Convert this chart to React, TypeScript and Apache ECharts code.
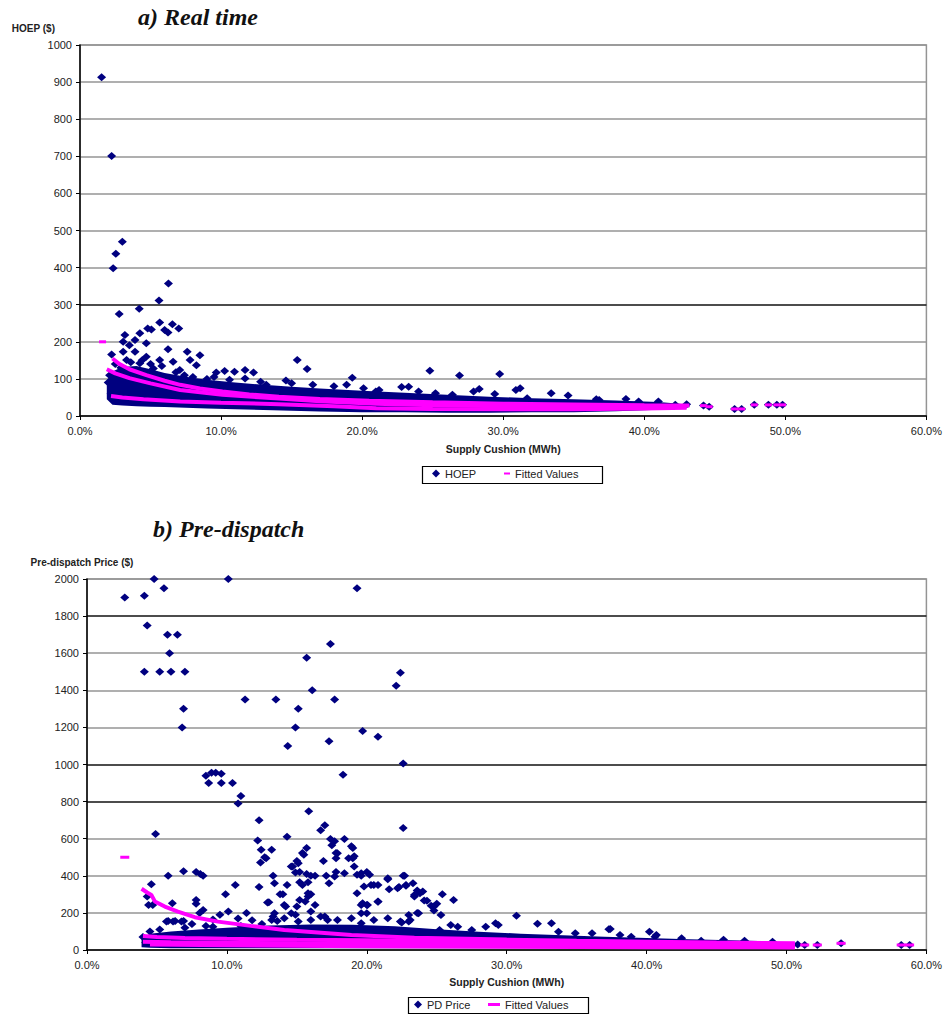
import React, { useEffect, useRef } from 'react';
import * as echarts from 'echarts';

const NAVY = '#000080';
const PINK = '#FF00FF';

// ---------- a) Real time ----------
// supply cushion (%) , HOEP ($)
const RT_POINTS: number[][] = [
  [1.53, 913], [2.24, 701], [3.0, 470], [2.54, 437], [2.35, 398], [6.27, 357], [5.6, 311], [4.2, 289], [2.78, 275],
  [2.24, 166], [3.18, 218], [3.06, 200], [4.24, 223], [4.8, 236], [5.06, 233], [5.65, 252], [6.0, 232], [6.24, 225], [6.55, 247], [7.0, 236],
  [3.9, 205], [4.7, 196], [3.5, 191], [3.06, 173], [3.9, 173], [6.24, 180], [7.6, 173], [8.5, 164],
  [3.3, 151], [4.7, 160], [4.24, 142], [5.65, 151], [6.6, 146], [7.8, 151],
  [5.2, 128], [7.07, 124], [8.25, 137], [9.66, 117], [10.25, 121], [10.95, 119], [11.7, 124], [12.3, 117],
  [15.4, 151], [16.1, 127], [19.3, 103],
  [24.8, 122], [26.9, 109], [29.75, 113], [30.9, 70], [31.2, 75], [33.4, 61], [34.6, 55], [27.9, 66], [28.3, 73],
  [22.8, 78], [23.3, 79], [20.97, 66], [36.6, 45], [38.7, 46],
  [11.7, 101], [13.2, 84], [14.6, 96], [16.5, 84], [18.0, 80], [18.9, 84], [20.1, 75], [21.2, 70], [24, 66], [25.2, 61],
  [26.4, 57], [29.4, 59], [31.7, 48], [36.8, 43], [39.6, 39], [41, 39],
  [2.5, 140], [2.9, 130], [3.6, 145], [4.4, 150], [5.0, 140], [5.8, 135], [6.8, 118], [7.4, 110], [8.0, 105], [9.0, 100],
  [2.1, 110], [2.0, 90], [2.2, 60], [2.6, 45], [9.5, 105], [10.6, 98], [12.8, 92], [15.0, 88],
  [42.2, 30], [43.0, 32], [44.2, 28], [44.6, 25], [46.4, 19], [46.9, 19], [47.8, 30], [48.8, 30], [49.4, 30], [49.8, 30],
];
// dense part of the cloud: supply cushion (%), lower edge, upper edge
const RT_CLOUD: number[][] = [
  [1.9, 45, 95], [2.3, 30, 120], [3, 28, 132], [4, 26, 135], [5, 25, 126], [6, 24, 116], [7.5, 22, 106], [9, 20, 98],
  [11, 18, 90], [13, 16, 84], [15, 14, 79], [17, 12, 74], [20, 10, 68], [23, 10, 63], [26, 9, 57], [29, 9, 52],
  [32, 10, 48], [35, 10, 45], [38, 13, 42], [41, 17, 38], [42.5, 20, 33], [43.2, 24, 28],
];
const RT_FIT_A: number[][] = [
  [2.3, 155], [2.8, 140], [3.5, 126], [4.7, 110], [6, 95], [7.1, 84], [8.5, 74], [10.1, 66], [12, 58], [14.1, 52],
  [17, 46], [20.5, 41], [25, 37], [30, 33], [35, 31], [40, 29], [43.2, 28],
];
const RT_FIT_B: number[][] = [
  [1.9, 126], [2.5, 115], [3.5, 102], [5, 88], [7.1, 70], [10.1, 57], [14.1, 47], [17, 40], [21, 33], [25, 29],
  [30, 26], [35, 25], [40, 24], [43, 25],
];
const RT_FIT_C: number[][] = [
  [2.2, 54], [3, 50], [4.5, 45], [7.1, 39], [10, 36], [14.1, 32], [18, 26], [21, 21], [25, 19], [30, 18],
  [35, 18], [40, 20], [43, 22],
];
const RT_FIT_DOTS: number[][] = [
  [1.6, 200], [44.2, 28], [44.6, 25], [46.4, 19], [46.9, 19], [47.8, 30], [48.8, 30], [49.4, 30], [49.8, 30],
];

// ---------- b) Pre-dispatch ----------
const PD_POINTS: number[][] = [
  [2.7, 1900], [4.1, 1910], [4.8, 2000], [5.5, 1950], [4.3, 1750], [5.75, 1700], [6.46, 1700], [5.9, 1600], [4.1, 1500],
  [5.2, 1500], [6.0, 1500], [7.0, 1500], [6.9, 1300], [6.8, 1200],
  [10.1, 2000], [19.3, 1950], [11.3, 1350], [13.5, 1350], [15.1, 1300], [14.9, 1200], [14.35, 1100], [15.7, 1575],
  [16.1, 1400], [17.4, 1650], [17.7, 1350], [17.3, 1125], [18.3, 945], [19.7, 1180], [20.8, 1150], [22.1, 1425],
  [22.4, 1495], [22.6, 1005], [22.6, 658],
  [8.5, 940], [8.9, 955], [9.2, 955], [9.6, 950], [8.7, 900], [9.6, 900], [10.4, 900], [11.0, 830], [10.8, 790], [4.9, 625],
  [12.3, 700], [12.2, 590], [14.3, 610], [15.85, 748], [17.0, 672], [16.7, 645], [17.4, 598], [17.5, 565], [18.4, 598],
  [19.0, 550], [17.8, 523], [17.8, 495], [18.7, 495], [19.0, 495], [19.1, 450],
  [12.45, 540], [12.7, 500], [12.4, 472], [13.2, 540], [13.3, 400], [13.4, 360], [14.3, 350], [14.6, 450], [15.0, 480],
  [15.4, 523], [15.7, 550], [14.9, 418], [15.2, 420], [15.7, 410], [16.0, 400], [16.3, 400], [15.2, 365], [15.8, 365],
  [17.3, 360], [17.1, 400], [17.8, 420], [15.8, 306], [16.0, 300], [15.2, 270], [15.6, 262], [16.9, 480],
  [19.3, 405], [19.6, 400], [20.0, 420], [19.6, 243], [20.0, 243], [19.6, 198], [20.0, 198], [20.8, 350], [20.5, 350],
  [21.5, 382], [21.6, 328], [20.8, 260], [22.3, 340], [22.8, 350], [22.6, 400], [23.4, 288], [23.8, 306], [24.0, 315],
  [24.3, 265], [24.8, 234], [25.3, 189], [25.4, 300], [26.2, 270], [25.0, 250], [23.6, 200],
  [9.9, 300], [10.6, 350], [11.4, 200], [12.3, 340], [13.0, 258], [13.8, 300], [14.0, 300], [14.2, 234], [14.6, 198],
  [14.9, 190], [15.0, 234], [13.4, 198], [13.6, 157], [13.3, 180],
  [5.8, 400], [6.9, 425], [7.8, 420], [8.1, 410], [8.3, 400], [4.6, 355], [4.3, 288], [4.4, 243], [4.7, 243], [6.1, 252],
  [7.8, 270], [7.8, 250], [5.8, 157], [6.3, 157], [6.9, 157], [8.05, 200], [8.3, 215],
  [12.8, 495], [12.9, 256], [14.1, 243], [14.7, 450], [15.1, 468], [15.5, 514], [15.4, 351], [15.8, 288], [16.3, 243],
  [16.7, 180], [17.2, 162], [16.0, 207],
  [17.7, 586], [17.9, 522], [18.9, 559], [19.1, 505], [18.4, 414], [17.7, 396], [19.6, 414], [20.2, 405], [20.3, 351],
  [19.8, 342], [19.3, 306], [19.7, 252], [20.05, 243], [20.8, 261], [21.5, 387], [22.2, 333], [22.7, 400], [23.3, 360],
  [5.68, 153], [6.15, 153], [6.75, 153], [13.2, 162], [14.1, 171], [15.1, 153], [16.0, 162], [17.0, 180], [17.9, 162],
  [18.9, 171], [19.6, 144], [20.5, 162], [21.5, 171], [22.4, 153], [23.1, 162],
  [22.8, 346], [23.4, 297], [23.6, 321], [24.1, 267], [24.6, 238], [24.8, 213], [23.0, 189], [23.7, 198], [22.5, 148],
  [23.0, 153], [10.1, 207], [9.5, 190], [10.8, 170], [11.8, 160], [9.0, 165], [7.5, 140], [8.5, 130], [12.5, 140],
  [26.0, 135], [26.5, 126], [29.2, 144], [29.4, 135], [28.5, 126], [27.5, 108], [25.2, 108], [30.7, 185], [32.2, 141],
  [33.2, 144], [33.7, 99], [34.9, 90], [36.1, 90], [37.3, 112], [37.4, 113], [38.1, 81], [38.9, 72], [40.2, 99],
  [40.7, 81], [40.6, 72], [42.5, 63], [43.9, 50], [45.5, 55], [47, 50], [49, 45],
  [4.2, 40], [4.5, 100], [5.2, 110], [7.0, 120], [9.0, 125], [11.0, 130], [4.0, 70],
  [50.8, 30], [51.3, 27], [52.2, 27], [53.9, 36], [58.2, 27], [58.8, 27],
];
const PD_CLOUD: number[][] = [
  [3.9, 15, 60], [4.5, 12, 88], [6, 10, 100], [8, 10, 110], [10, 10, 120], [13, 10, 132], [16, 10, 138], [19, 10, 136],
  [22, 10, 128], [25, 10, 112], [28, 10, 98], [31, 10, 88], [34, 10, 80], [37, 12, 72], [40, 12, 65], [43, 12, 58],
  [46, 15, 52], [48, 15, 48], [50, 18, 42], [50.6, 22, 34],
];
const PD_FIT_U: number[][] = [
  [3.9, 330], [4.3, 310], [4.6, 297], [4.85, 262], [5.56, 234], [6.5, 207], [7.7, 177], [9.36, 153], [11.7, 130],
  [14.1, 108], [18.9, 81], [23.4, 66], [30, 56], [35, 50], [40, 45], [45, 40], [50.6, 36],
];
const PD_FIT_M: number[][] = [
  [4, 75], [5, 70], [7, 65], [10, 60], [15, 55], [20, 52], [25, 48], [30, 44], [35, 40], [40, 36], [45, 32], [50.6, 28],
];
const PD_FIT_L: number[][] = [
  [4, 45], [6, 42], [10, 39], [15, 36], [20, 34], [30, 30], [40, 26], [50.6, 23],
];
const PD_FIT_B: number[][] = [
  [4.5, 30], [10, 26], [20, 20], [30, 17], [40, 15], [50.6, 14],
];
const PD_FIT_DOTS: number[][] = [
  [2.7, 500], [51.3, 27], [52.2, 27], [53.9, 36], [58.2, 27], [58.8, 27],
];

const X_MIN = 0;
const X_MAX = 60;
const X_STEP = 10;
const RT_Y = { min: 0, max: 1000, step: 100 };
const PD_Y = { min: 0, max: 2000, step: 200 };

const FONT = '"Liberation Sans", Arial, sans-serif';
const TEXT = '#222';
const GRAY = '#949494';

function cloud(env: number[][], idx: number) {
  return {
    type: 'custom',
    xAxisIndex: idx,
    yAxisIndex: idx,
    silent: true,
    z: 2,
    data: [[env[0][0], env[0][1]]],
    renderItem: (_p: any, api: any) => {
      const up = env.map((p) => api.coord([p[0], p[2]]));
      const lo = env.slice().reverse().map((p) => api.coord([p[0], p[1]]));
      return { type: 'polygon', shape: { points: up.concat(lo) }, style: { fill: NAVY } };
    },
  };
}

function fitLine(data: number[][], idx: number) {
  return {
    type: 'line',
    name: 'Fitted Values',
    xAxisIndex: idx,
    yAxisIndex: idx,
    data,
    showSymbol: false,
    symbol: 'none',
    smooth: false,
    z: 4,
    color: PINK,
    itemStyle: { color: PINK },
    lineStyle: { color: PINK, width: 4 },
  };
}

function xAxis(idx: number) {
  return {
    type: 'value',
    gridIndex: idx,
    min: X_MIN,
    max: X_MAX,
    interval: X_STEP,
    name: 'Supply Cushion (MWh)',
    nameLocation: 'middle',
    nameGap: idx === 0 ? 27 : 26,
    nameTextStyle: { fontFamily: FONT, fontSize: 10.5, fontWeight: 'bold', color: TEXT },
    axisLine: { show: true, lineStyle: { color: '#000', width: 1.5 } },
    axisTick: { show: true, length: 4, lineStyle: { color: '#000' } },
    axisLabel: { fontFamily: FONT, fontSize: 11, color: TEXT, margin: 9, formatter: (v: number) => v.toFixed(1) + '%' },
    splitLine: { show: false },
  };
}

function yAxis(idx: number, r: { min: number; max: number; step: number }, name: string, colors: string[]) {
  return {
    type: 'value',
    gridIndex: idx,
    min: r.min,
    max: r.max,
    interval: r.step,
    name,
    nameLocation: 'end',
    nameGap: 12,
    nameTextStyle:
      idx === 0
        ? { fontFamily: FONT, fontSize: 10, fontWeight: 'bold', color: TEXT, align: 'right', padding: [0, 25, 0, 0] }
        : { fontFamily: FONT, fontSize: 10, fontWeight: 'bold', color: TEXT, align: 'center', padding: [0, 10, 0, 0] },
    axisLine: { show: true, lineStyle: { color: '#000', width: 1.5 } },
    axisTick: { show: true, length: 4, lineStyle: { color: '#000' } },
    axisLabel: { fontFamily: FONT, fontSize: 11, color: TEXT, margin: 8, formatter: (v: number) => String(v) },
    splitLine: { show: true, lineStyle: { color: colors, width: 1.6 } },
  };
}

export default function App() {
  const ref = useRef<HTMLDivElement>(null);
  useEffect(() => {
    document.body.style.margin = '0';
    if (!ref.current) return;
    const chart = echarts.init(ref.current, null, { renderer: 'svg' });
    const rtColors = [GRAY, GRAY, GRAY, '#111', GRAY, GRAY, GRAY, GRAY, GRAY, GRAY, GRAY];
    const pdColors = [GRAY, GRAY, GRAY, GRAY, '#111', '#111', GRAY, GRAY, GRAY, '#111', GRAY];
    const titleStyle = { fontFamily: '"Liberation Serif", "Times New Roman", serif', fontSize: 24, fontWeight: 'bold', fontStyle: 'italic', color: '#111' };
    const legendText = { fontFamily: FONT, fontSize: 11, color: TEXT };
    const scatterStyle = { color: NAVY, opacity: 1 };
    chart.setOption({
      animation: false,
      backgroundColor: '#fff',
      title: [
        { text: 'a) Real time', left: 133, top: 0, textStyle: titleStyle },
        { text: 'b) Pre-dispatch', left: 148, top: 512, textStyle: titleStyle },
      ],
      grid: [
        { left: 80, top: 45, width: 849, height: 371, show: true, borderColor: GRAY, borderWidth: 1.5, backgroundColor: 'transparent' },
        { left: 87, top: 579, width: 842, height: 371, show: true, borderColor: GRAY, borderWidth: 1.5, backgroundColor: 'transparent' },
      ],
      xAxis: [xAxis(0), xAxis(1)],
      yAxis: [yAxis(0, RT_Y, 'HOEP ($)', rtColors), yAxis(1, PD_Y, 'Pre-dispatch Price ($)', pdColors)],
      legend: [
        { data: [{ name: 'HOEP', icon: 'diamond' }], left: 432, top: 468, padding: 0, itemWidth: 8, itemHeight: 8, itemGap: 4, textStyle: legendText, selectedMode: false },
        { data: [{ name: 'Fitted Values', icon: 'rect' }], left: 504, top: 468, padding: 0, itemWidth: 6, itemHeight: 2, textStyle: legendText, selectedMode: false },
        { data: [{ name: 'PD Price', icon: 'diamond' }], left: 414, top: 999, padding: 0, itemWidth: 8, itemHeight: 8, textStyle: legendText, selectedMode: false },
        { data: [{ name: 'Fitted Values', icon: 'rect' }], left: 488, top: 999, padding: 0, itemWidth: 12, itemHeight: 3, textStyle: legendText, selectedMode: false },
      ],
      graphic: [
        { type: 'rect', shape: { x: 422.5, y: 466.5, width: 180, height: 17 }, style: { fill: 'none', stroke: '#000', lineWidth: 1.2 }, z: 100 },
        { type: 'rect', shape: { x: 408.5, y: 997.5, width: 180, height: 16 }, style: { fill: 'none', stroke: '#000', lineWidth: 1.2 }, z: 100 },
      ],
      series: [
        cloud(RT_CLOUD, 0),
        { type: 'scatter', name: 'HOEP', xAxisIndex: 0, yAxisIndex: 0, data: RT_POINTS, symbol: 'diamond', symbolSize: [9, 8], itemStyle: scatterStyle, z: 3 },
        fitLine(RT_FIT_A, 0),
        fitLine(RT_FIT_B, 0),
        fitLine(RT_FIT_C, 0),
        { type: 'scatter', name: 'Fitted Values', xAxisIndex: 0, yAxisIndex: 0, data: RT_FIT_DOTS, symbol: 'rect', symbolSize: [7, 3], itemStyle: { color: PINK, opacity: 1 }, z: 5 },
        cloud(PD_CLOUD, 1),
        { type: 'scatter', name: 'PD Price', xAxisIndex: 1, yAxisIndex: 1, data: PD_POINTS, symbol: 'diamond', symbolSize: [9, 8], itemStyle: scatterStyle, z: 3 },
        fitLine(PD_FIT_U, 1),
        fitLine(PD_FIT_M, 1),
        fitLine(PD_FIT_L, 1),
        fitLine(PD_FIT_B, 1),
        { type: 'scatter', name: 'Fitted Values', xAxisIndex: 1, yAxisIndex: 1, data: PD_FIT_DOTS, symbol: 'rect', symbolSize: [9, 3], itemStyle: { color: PINK, opacity: 1 }, z: 5 },
      ],
    });
    return () => chart.dispose();
  }, []);
  return <div ref={ref} style={{ width: 945, height: 1014 }} />;
}
